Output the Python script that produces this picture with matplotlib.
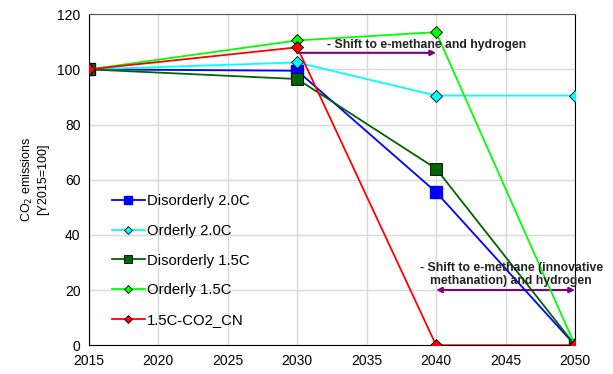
import matplotlib.pyplot as plt

# anos e emissões relativas (2015 = 100)
anos = [2015, 2030, 2040, 2050]
disorderly_20 = [100, 99.5, 55.5, 0]
orderly_20 = [100, 102.5, 90.5, 90.5]
disorderly_15 = [100, 96.5, 64, 0]
orderly_15 = [100, 110.5, 113.5, 0]
co2_cn = [100, 108, 0, 0]

plt.rcParams['font.family'] = ['Liberation Sans', 'DejaVu Sans']

fig = plt.figure(figsize=(6.13, 3.74), dpi=100)
ax = fig.add_axes([0.145, 0.077, 0.793, 0.885])

ax.plot(anos, disorderly_20, color='#0000ff', marker='s', markersize=8,
        markeredgecolor='#0000ff', lw=1.3, label='Disorderly 2.0C', zorder=3)
ax.plot(anos, orderly_20, color='#00ffff', marker='D', markersize=6,
        markeredgecolor='black', markeredgewidth=0.6, lw=1.3, label='Orderly 2.0C', zorder=3)
ax.plot(anos, disorderly_15, color='#006400', marker='s', markersize=8,
        markeredgecolor='black', markeredgewidth=0.6, lw=1.3, label='Disorderly 1.5C', zorder=3)
ax.plot(anos, orderly_15, color='#00ff00', marker='D', markersize=6,
        markeredgecolor='black', markeredgewidth=0.6, lw=1.3, label='Orderly 1.5C', zorder=3)
ax.plot(anos, co2_cn, color='#ff0000', marker='D', markersize=6,
        markeredgecolor='black', markeredgewidth=0.6, lw=1.3, label='1.5C-CO2_CN', zorder=4)

# setas e textos das transições
ax.annotate('', xy=(2040, 106), xytext=(2030, 106),
            arrowprops=dict(arrowstyle='-|>', color='#800080', lw=1.5,
                            mutation_scale=8, shrinkA=0, shrinkB=0), zorder=2)
ax.text(2039.3, 109, '- Shift to e-methane and hydrogen', ha='center', va='center',
        fontsize=8.8, fontweight='bold', color='#222222', zorder=5)
ax.annotate('', xy=(2050, 20), xytext=(2040, 20),
            arrowprops=dict(arrowstyle='<|-|>', color='#800080', lw=1.5,
                            mutation_scale=8, shrinkA=0, shrinkB=0), zorder=2)
ax.text(2045.4, 25.5, '- Shift to e-methane (innovative\nmethanation) and hydrogen',
        ha='center', va='center', fontsize=8.8, fontweight='bold', color='#222222',
        linespacing=1.1, zorder=5)

ax.set_xlim(2015, 2050)
ax.set_ylim(0, 120)
ax.set_xticks(range(2015, 2051, 5))
ax.set_yticks(range(0, 121, 20))
ax.tick_params(labelsize=10, length=0, pad=6)
ax.grid(color='#d9d9d9', lw=1)
ax.set_axisbelow(True)
for lado in ['left', 'bottom', 'right']:
    ax.spines[lado].set_color('black')
ax.spines['top'].set_color('#555555')

ax.set_ylabel('CO$_2$ emissions\n[Y2015=100]', fontsize=9, labelpad=6)

ax.legend(loc='lower left', bbox_to_anchor=(0.02, 0.015), frameon=False,
          fontsize=10.7, handlelength=2.2, handletextpad=0.15, labelspacing=1.05,
          markerscale=0.7)

fig.savefig('out.png', dpi=100)
